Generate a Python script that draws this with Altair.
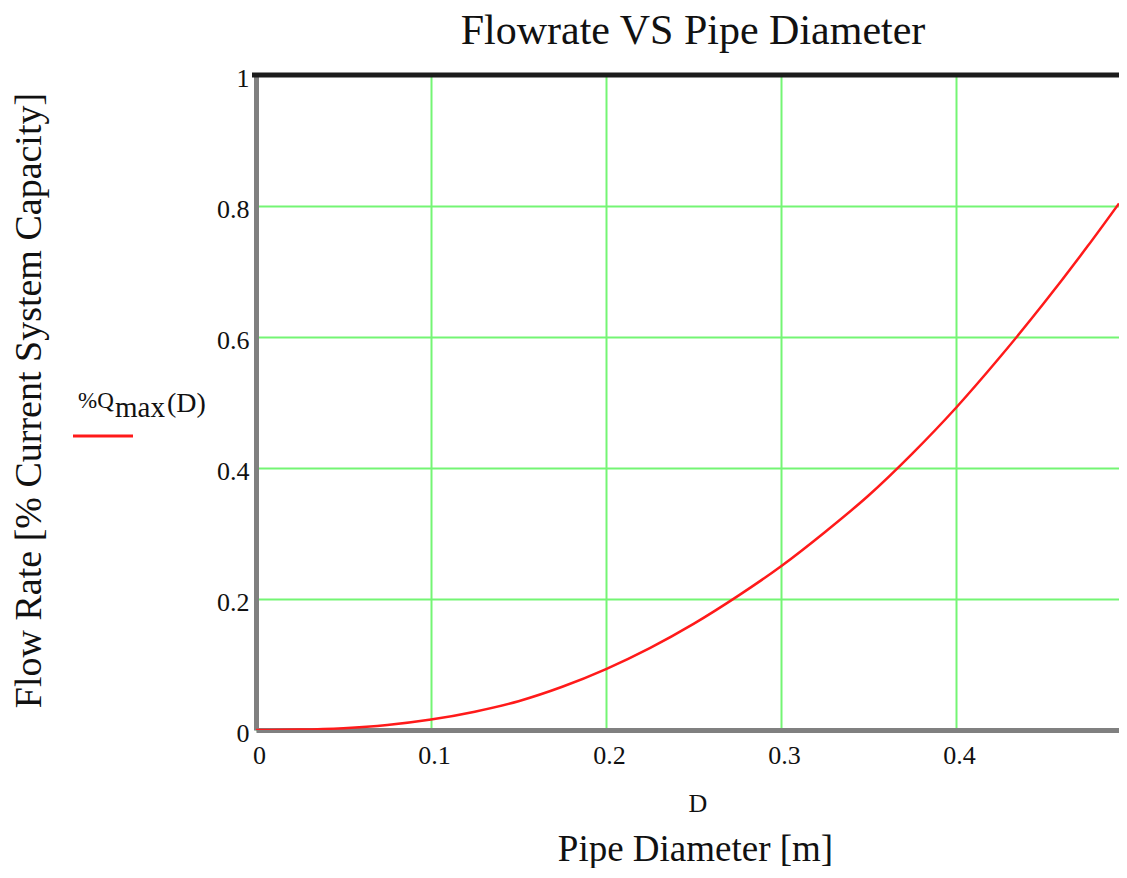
import altair as alt
import pandas as pd

# Pipe diameter [m] and relative flow rate
D = [0, 0.025, 0.05, 0.075, 0.1, 0.125, 0.15, 0.175, 0.2, 0.225, 0.25,
     0.275, 0.3, 0.325, 0.35, 0.375, 0.4, 0.425, 0.45, 0.475, 0.4931]
Q = [0, 0.0006, 0.0028, 0.0077, 0.016, 0.028, 0.044, 0.066, 0.093, 0.125, 0.162,
     0.204, 0.25, 0.302, 0.358, 0.422, 0.492, 0.569, 0.651, 0.738, 0.804]
x_ticks = [0, 0.1, 0.2, 0.3, 0.4]
y_ticks = [0, 0.2, 0.4, 0.6, 0.8, 1]

TITLE = "Flowrate VS Pipe Diameter"
X_TITLE = "Pipe Diameter [m]"
Y_TITLE = "Flow Rate [% Current System Capacity]"
X_VAR = "D"
LEG_A, LEG_SUB, LEG_B = "%Q", "max", "(D)"

W, H = 863, 655
FONT = "Liberation Serif"
GRID = "#74f574"
AXIS_GRAY = "#808080"

df = pd.DataFrame({"D": D, "Q": Q})
one = pd.DataFrame({"k": [0]})

x_enc = alt.X(
    "D:Q",
    scale=alt.Scale(domain=[0, 0.4931], nice=False, zero=False),
    axis=alt.Axis(
        values=x_ticks, format="~g", ticks=False, labelFlush=False,
        labelFont=FONT, labelFontSize=26, labelColor="#111", labelPadding=12, labelOffset=3,
        domainColor=AXIS_GRAY, domainWidth=5,
        grid=True, gridColor=GRID, gridWidth=2,
        title=X_TITLE, titleFont=FONT, titleFontSize=37, titleFontWeight="normal",
        titleColor="#111", titleX=439, titleY=130, titleAlign="center",
        titleBaseline="alphabetic",
    ),
)
y_enc = alt.Y(
    "Q:Q",
    scale=alt.Scale(domain=[0, 1], nice=False, zero=False),
    axis=alt.Axis(
        values=y_ticks, format="~g", ticks=False, labelFlush=False,
        labelFont=FONT, labelFontSize=26, labelColor="#111", labelPadding=7, labelOffset=3,
        domainColor=AXIS_GRAY, domainWidth=5,
        grid=True, gridColor=GRID, gridWidth=2,
        title=Y_TITLE, titleFont=FONT, titleFontSize=38, titleFontWeight="normal",
        titleColor="#111", titleX=-216, titleY=325, titleAngle=270,
        titleAlign="center", titleBaseline="alphabetic",
    ),
)

curve = alt.Chart(df).mark_line(
    color="#ff1a1a", strokeWidth=2.5, clip=True, interpolate="monotone"
).encode(x=x_enc, y=y_enc)

top_border = alt.Chart(one).mark_rule(color="#1c1c1c", strokeWidth=5).encode(
    x=alt.value(-4), x2=alt.value(W), y=alt.value(0)
)

def txt(s, x, y, size, align="left", baseline="alphabetic"):
    return alt.Chart(one).mark_text(
        text=s, font=FONT, fontSize=size, color="#111", align=align,
        baseline=baseline, clip=False
    ).encode(x=alt.value(x), y=alt.value(y))

title = txt(TITLE, 437, -31, 42, align="center")
leg_a = txt(LEG_A, -178, 333, 23)
leg_sub = txt(LEG_SUB, -141, 342, 29)
leg_b = txt(LEG_B, -89, 337, 28)
leg_line = alt.Chart(one).mark_rule(color="#ff1a1a", strokeWidth=3).encode(
    x=alt.value(-183), x2=alt.value(-123), y=alt.value(361)
)
d_label = txt(X_VAR, 442, 737, 26, align="center")

chart = alt.layer(
    curve, top_border, leg_line, leg_a, leg_sub, leg_b, d_label, title
).properties(
    width=W,
    height=H,
    padding={"left": 248, "top": 67, "right": 0, "bottom": 138},
    autosize=alt.AutoSizeParams(type="none"),
).configure_view(stroke=None).configure(background="white")

chart.save("out.html", embed_options={"renderer": "svg", "actions": False})
